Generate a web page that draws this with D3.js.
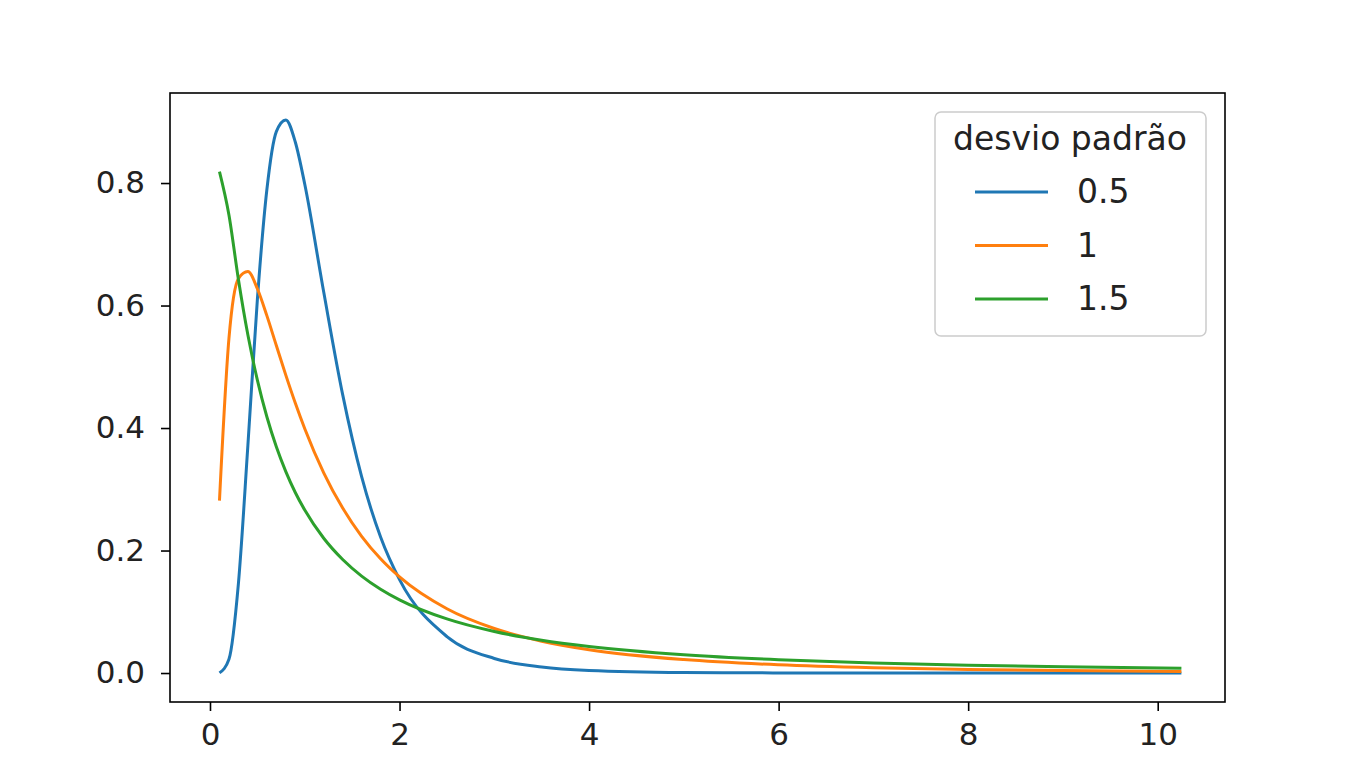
<!DOCTYPE html>
<html><head><meta charset="utf-8">
<script src="https://cdn.jsdelivr.net/npm/d3@7"></script>
<style>body{margin:0;background:#fff}svg text{font-family:"DejaVu Sans",sans-serif;fill:#222}</style>
</head><body><svg id="c" width="1360" height="784"></svg>
<script>
const xs=[0.1,0.2,0.3,0.4,0.5,0.6,0.7,0.8,0.9,1.0,1.2,1.4,1.6,1.8,2.0,2.5,3,3.5,4,5,6,7,8,9,10.25];
const s05=[0.0002,0.0225,0.1465,0.372,0.610,0.789,0.884,0.903,0.867,0.798,0.622,0.4545,0.3206,0.2221,0.1526,0.0595,0.0238,0.0099,0.0043,0.0009,0.0002,0.00005,0,0,0];
const s10=[0.2816,0.5463,0.644,0.6554,0.6274,0.5835,0.5348,0.4864,0.4408,0.3989,0.3269,0.2693,0.2232,0.1865,0.1569,0.1049,0.0727,0.0520,0.0381,0.0219,0.01335,0.00858,0.00574,0.00396,0.0026];
const s15=[0.8188,0.748,0.6425,0.5518,0.4781,0.4184,0.3694,0.3289,0.2948,0.2660,0.2200,0.1853,0.1583,0.1369,0.1195,0.0883,0.0678,0.0536,0.0434,0.0299,0.0217,0.0164,0.0127,0.0101,0.0078];
const seriesNames=["0.5","1","1.5"];
const colors=["#1f77b4","#ff7f0e","#2ca02c"];
const xTicks=[0,2,4,6,8,10], yTicks=[0,0.2,0.4,0.6,0.8];
const L=170,R=1225,T=93,B=702;
const svg=d3.select("#c");
const x=d3.scaleLinear().domain([-0.422,10.71]).range([L,R]);
const y=d3.scaleLinear().domain([-0.0473,0.947]).range([B,T]);
const line=d3.line().x((d,i)=>x(xs[i])).y(d=>y(d)).curve(d3.curveMonotoneX);
[s05,s10,s15].forEach((s,k)=>svg.append("path").attr("d",line(s)).attr("fill","none").attr("stroke",colors[k]).attr("stroke-width",3));
svg.append("rect").attr("x",L).attr("y",T).attr("width",R-L).attr("height",B-T).attr("fill","none").attr("stroke","#000").attr("stroke-width",1.6);
const gx=svg.append("g").attr("transform",`translate(0,${B})`).call(d3.axisBottom(x).tickValues(xTicks).tickSize(9).tickPadding(12).tickFormat(d3.format("d")));
const gy=svg.append("g").attr("transform",`translate(${L},0)`).call(d3.axisLeft(y).tickValues(yTicks).tickSize(9).tickPadding(16).tickFormat(d3.format(".1f")));
[gx,gy].forEach(g=>{g.select(".domain").remove();g.selectAll("line").attr("stroke","#000").attr("stroke-width",1.6);g.selectAll("text").attr("font-size",31).attr("font-family","DejaVu Sans").attr("fill","#222");});
const lg=svg.append("g");
lg.append("rect").attr("x",935).attr("y",112).attr("width",271).attr("height",224).attr("rx",6).attr("fill","#fff").attr("stroke","#ccc").attr("stroke-width",1.5);
lg.append("text").attr("x",1070).attr("y",150).attr("text-anchor","middle").attr("font-size",33).text("desvio padrão");
seriesNames.forEach((n,i)=>{const yy=192+i*53.5;
lg.append("line").attr("x1",975).attr("x2",1048).attr("y1",yy).attr("y2",yy).attr("stroke",colors[i]).attr("stroke-width",3);
lg.append("text").attr("x",1077).attr("y",yy+11).attr("font-size",33).text(n);});
</script></body></html>
